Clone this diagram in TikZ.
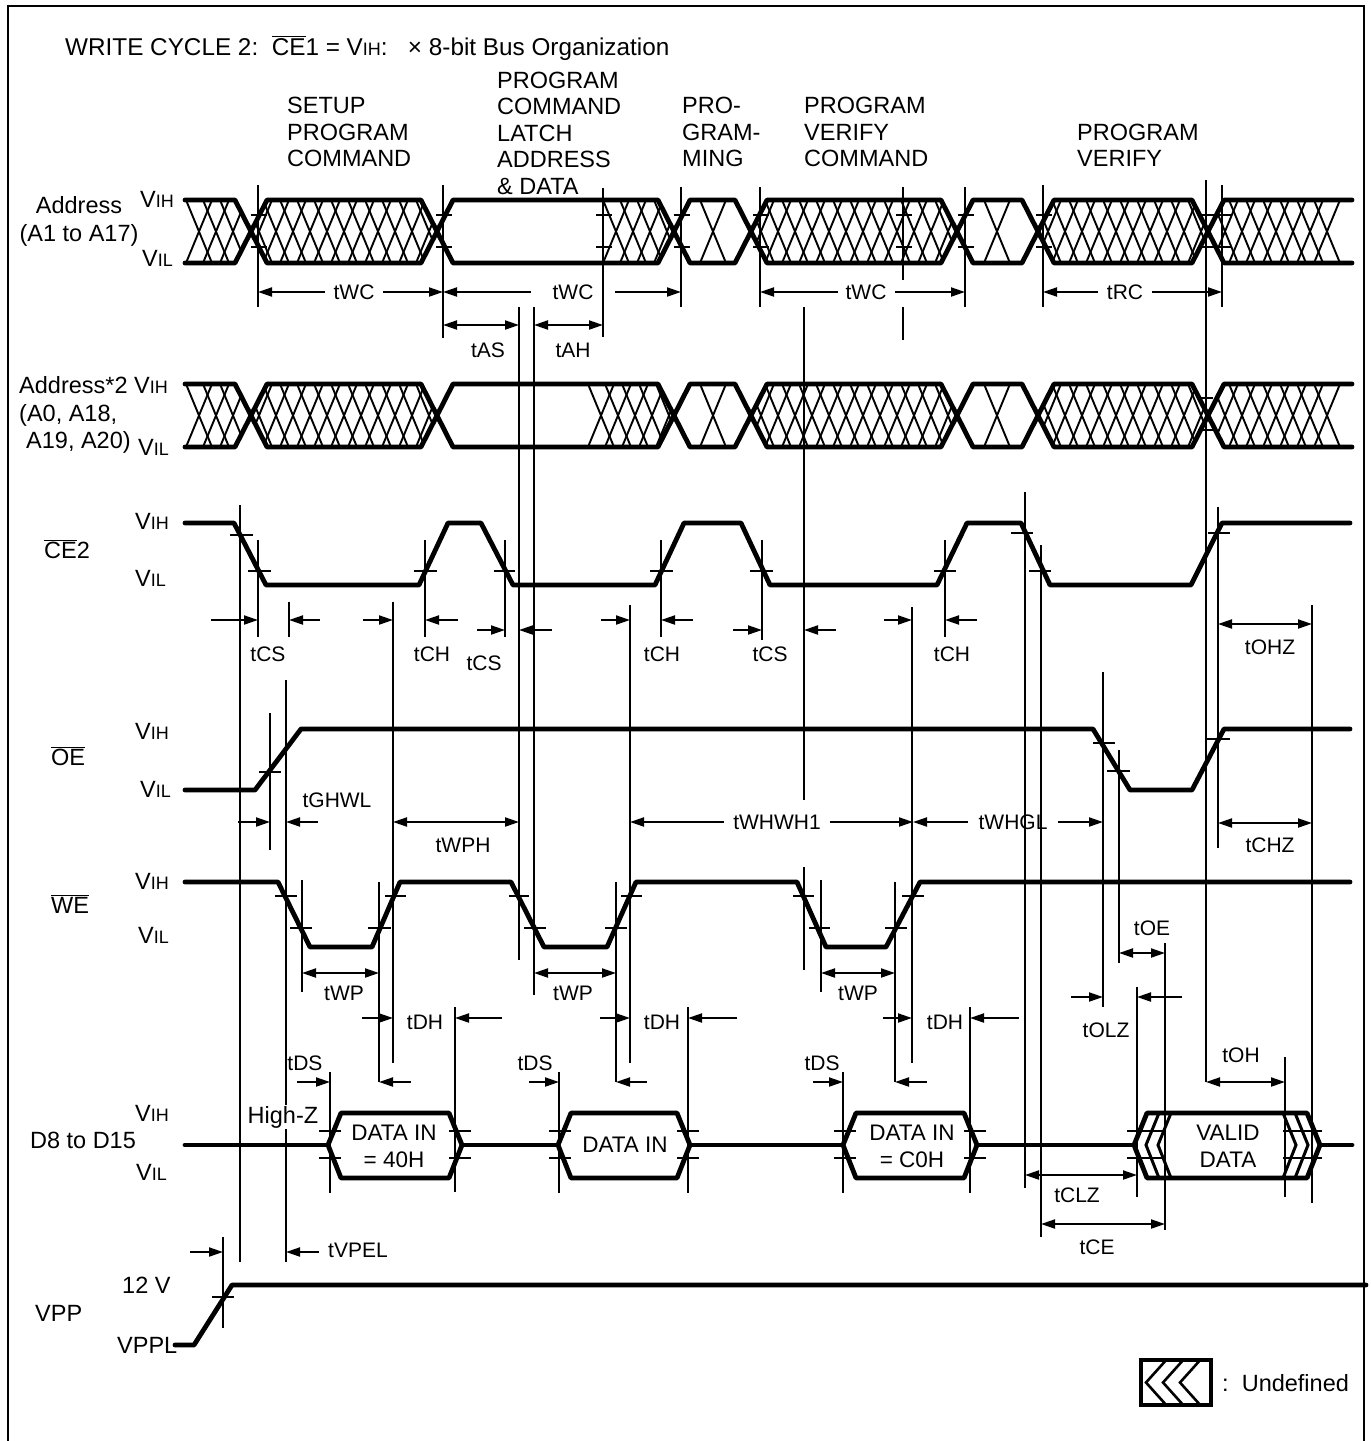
\documentclass[tikz,border=0pt]{standalone}
\usepackage{fontspec}
\setmainfont{Liberation Sans}
\usetikzlibrary{arrows.meta}
\newcommand\vih{V{\fontsize{18}{18}\selectfont IH}}
\newcommand\vil{V{\fontsize{18}{18}\selectfont IL}}
\newcommand\ovl[1]{$\overline{\mbox{#1}}$}
\newcommand\hx[1]{\foreach \a in {#1}{\draw[hatchln] (\a,0)--++(26,63) (\a+26,0)--++(-26,63);}}
\newcommand\busrow[3]{%
\begin{scope}[shift={(0,#1)}]
\begin{scope}\clip (180,0)--(235,0)--(251,31.5)--(235,63)--(180,63)--cycle; \hx{186,203,220,237}\end{scope}
\begin{scope}\clip (251,31.5)--(267,0)--(421,0)--(437,31.5)--(421,63)--(267,63)--cycle; \hx{246,263,...,433}\end{scope}
\begin{scope}\clip (#2,0)--(658,0)--(674,31.5)--(658,63)--(#2,63)--cycle; \hx{#3}\end{scope}
\begin{scope}\clip (674,31.5)--(690,0)--(735,0)--(751,31.5)--(735,63)--(690,63)--cycle; \hx{700}\end{scope}
\begin{scope}\clip (751,31.5)--(767,0)--(941,0)--(957,31.5)--(941,63)--(767,63)--cycle; \hx{748,765,...,952}\end{scope}
\begin{scope}\clip (957,31.5)--(973,0)--(1022,0)--(1038,31.5)--(1022,63)--(973,63)--cycle; \hx{984}\end{scope}
\begin{scope}\clip (1038,31.5)--(1054,0)--(1192,0)--(1208,31.5)--(1192,63)--(1054,63)--cycle; \hx{1035,1052,...,1205}\end{scope}
\begin{scope}\clip (1208,31.5)--(1224,0)--(1341,0)--(1341,63)--(1224,63)--cycle; \hx{1212,1229,...,1314}\end{scope}
\draw[sig] (185,0)--(235,0)--(267,63)--(421,63)--(453,0)--(658,0)--(690,63)--(735,63)--(767,0)--(941,0)--(973,63)--(1022,63)--(1054,0)--(1192,0)--(1224,63)--(1352,63);
\draw[sig] (185,63)--(235,63)--(267,0)--(421,0)--(453,63)--(658,63)--(690,0)--(735,0)--(767,63)--(941,63)--(973,0)--(1022,0)--(1054,63)--(1192,63)--(1224,0)--(1352,0);
\end{scope}}
\begin{document}
\begin{tikzpicture}[x=1pt,y=-1pt,
  sig/.style={line width=4.8pt,line cap=round,line join=round},
  thin/.style={line width=1.9pt},
  hatchln/.style={line width=1.9pt},
  tick/.style={line width=1.9pt},
  dim/.style={line width=2pt,-{Triangle[length=14pt,width=9pt]}},
  ddim/.style={line width=2pt,{Triangle[length=14pt,width=9pt]}-{Triangle[length=14pt,width=9pt]}},
  lbl/.style={font=\fontsize{23.5}{26.5}\selectfont,inner sep=0pt},
  tlbl/.style={font=\fontsize{21}{24}\selectfont,inner sep=0pt},
  dlbl/.style={font=\fontsize{22.5}{26}\selectfont,inner sep=0pt},
]
\useasboundingbox (0,0) rectangle (1371,1441);
\fill[white] (0,0) rectangle (1371,1441);
% frame
\draw[line width=2pt] (8,1450)--(8,6)--(1364,6)--(1364,1450);

% title and phase labels
\node[lbl,font=\fontsize{24.3}{27}\selectfont,anchor=base west] (title) at (65,55) {WRITE CYCLE 2:\ \ \ovl{CE}1 = \vih:\ \ \ ×\ 8-bit Bus Organization};
\foreach \t [count=\i] in {SETUP,PROGRAM,COMMAND} \node[lbl,anchor=base west] (pa\i) at (287,{87+26.5*\i}) {\t};
\foreach \t [count=\i] in {PROGRAM,COMMAND,LATCH,ADDRESS,\& DATA} \node[lbl,anchor=base west] (pb\i) at (497,{61.5+26.5*\i}) {\t};
\foreach \t [count=\i] in {PRO-,GRAM-,MING} \node[lbl,anchor=base west] (pc\i) at (682,{87+26.5*\i}) {\t};
\foreach \t [count=\i] in {PROGRAM,VERIFY,COMMAND} \node[lbl,anchor=base west] (pd\i) at (804,{87+26.5*\i}) {\t};
\foreach \t [count=\i] in {PROGRAM,VERIFY} \node[lbl,anchor=base west] (pe\i) at (1077,{113.5+26.5*\i}) {\t};

% row labels
\node[lbl,anchor=base] (a1) at (79,213) {Address};
\node[lbl,anchor=base] (a2) at (79,241) {(A1 to A17)};
\node[lbl,anchor=base west] (a3) at (140,207) {\vih};
\node[lbl,anchor=base west] (a4) at (142,266) {\vil};
\node[lbl,anchor=base west] (b1) at (19,393) {Address*2 \vih};
\node[lbl,anchor=base west] (b2) at (19,421) {(A0, A18,};
\node[lbl,anchor=base west] (b3) at (26,448) {A19, A20)};
\node[lbl,anchor=base west] (b4) at (138,455) {\vil};
\node[lbl,anchor=base] (c0) at (67,558) {\ovl{CE}2};
\node[lbl,anchor=base west] (c1) at (135,529) {\vih};
\node[lbl,anchor=base west] (c2) at (135,586) {\vil};
\node[lbl,anchor=base] (o0) at (68,765) {\ovl{OE}};
\node[lbl,anchor=base west] (o1) at (135,739) {\vih};
\node[lbl,anchor=base west] (o2) at (140,797) {\vil};
\node[lbl,anchor=base] (w0) at (70,913) {\ovl{WE}};
\node[lbl,anchor=base west] (w1) at (135,889) {\vih};
\node[lbl,anchor=base west] (w2) at (138,943) {\vil};
\node[lbl,anchor=base] (d0) at (83,1148) {D8 to D15};
\node[lbl,anchor=base west] (d1) at (135,1121) {\vih};
\node[lbl,anchor=base west] (d2) at (136,1180) {\vil};
\node[lbl,anchor=base west] (v1) at (122,1293) {12 V};
\node[lbl,anchor=base west] (v2) at (35,1321) {VPP};
\node[lbl,anchor=base west] (v3) at (117,1353) {VPPL};

% bus rows
\busrow{200}{603}{603,620,637,654}
\busrow{384}{588}{588,605,622,639,656}

% vertical reference lines
\foreach \x/\a/\b in {258/185/307, 443/185/338, 603/188/337, 681/187/307, 760/187/307, 903/187/280, 903/307/340,
  965/187/307, 1043/185/307, 1222/185/307, 1206/180/1082,
  240/505/1262, 258/540/637, 289/602/637, 286/680/1262,
  270/713/850, 302/880/992, 379/882/1082, 393/602/1063, 330/1072/1193, 425/540/637, 455/1007/1192,
  505/540/637, 519/307/960, 534/307/995, 559/1072/1193, 616/882/1082, 630/605/1063, 661/540/637,
  688/1007/1193, 762/540/640, 804/307/800, 804/867/970, 821/880/992, 843/1072/1193, 895/882/1082,
  912/607/1063, 945/540/637, 970/1007/1193, 1025/492/1188, 1041/545/1237, 1103/672/1007,
  1119/750/963, 1137/987/1197, 1165/943/1230, 1218/507/848, 1285/1057/1197, 1312/605/1203, 223/1237/1328}
  \draw[thin] (\x,\a)--(\x,\b);

% ticks
\foreach \v in {258,443,603,681,760,903,965,1043,1206,1222}
  \draw[tick] (\v-7,215)--(\v+9,215) (\v-7,247)--(\v+9,247);
\foreach \a/\b/\y in {1198/1213/398, 1198/1213/430,
  230/253/535, 248/271/571, 414/437/571, 494/515/571, 650/673/571, 750/773/571, 934/956/571, 1011/1033/533, 1029/1051/571, 1208/1230/533,
  259/281/772, 1093/1115/743, 1107/1130/771, 1207/1230/739,
  275/297/896, 290/312/928, 368/391/928, 385/406/896, 509/529/896, 524/546/928, 605/627/928, 621/642/896,
  793/814/896, 809/830/928, 885/907/928, 902/924/896,
  1127/1165/1131, 1127/1165/1158, 1283/1322/1131, 1283/1322/1158, 212/234/1297}
  \draw[tick] (\a,\y)--(\b,\y);
\foreach \l/\r in {328/462, 558/690, 843/977}
  \draw[tick] (\l-9,1131)--(\l+13,1131) (\l-9,1158)--(\l+13,1158) (\r-13,1131)--(\r+9,1131) (\r-13,1158)--(\r+9,1158);

% CE2, OE, WE
\draw[sig] (185,523)--(234,523)--(266,585)--(419,585)--(448,523)--(481,523)--(513,585)--(655,585)--(684,523)--(741,523)--(770,585)--(937,585)--(967,523)--(1021,523)--(1050,585)--(1191,585)--(1222,523)--(1350,523);
\draw[sig] (185,790)--(255,790)--(301,729)--(1093,729)--(1130,790)--(1192,790)--(1224,729)--(1350,729);
\draw[sig] (185,882)--(278,882)--(310,947)--(372,947)--(400,882)--(511,882)--(544,947)--(607,947)--(636,882)--(797,882)--(826,947)--(886,947)--(920,882)--(1350,882);

% data bus
\draw[sig] (185,1145)--(328,1145) (462,1145)--(558,1145) (690,1145)--(843,1145) (977,1145)--(1134,1145) (1320,1145)--(1352,1145);
\draw[sig] (328,1145)--(341,1113)--(449,1113)--(462,1145)--(449,1178)--(341,1178)--cycle;
\draw[sig] (558,1145)--(571,1113)--(677,1113)--(690,1145)--(677,1178)--(571,1178)--cycle;
\draw[sig] (843,1145)--(856,1113)--(964,1113)--(977,1145)--(964,1178)--(856,1178)--cycle;
\draw[sig] (1147,1113)--(1134,1145)--(1147,1178)--(1307,1178)--(1320,1145)--(1307,1113)--cycle;
\draw[line width=3pt] (1159,1113)--(1146,1145)--(1159,1178) (1171,1113)--(1158,1145)--(1171,1178)
  (1283,1113)--(1296,1145)--(1283,1178) (1295,1113)--(1308,1145)--(1295,1178);
\node[dlbl] (di1) at (394,1133) {DATA IN};
\node[dlbl] (di1b) at (394,1160) {= 40H};
\node[dlbl] (di2) at (625,1145) {DATA IN};
\node[dlbl] (di3) at (912,1133) {DATA IN};
\node[dlbl] (di3b) at (912,1160) {= C0H};
\node[dlbl] (vd1) at (1228,1133) {VALID};
\node[dlbl] (vd2) at (1228,1160) {DATA};
\node[lbl,fill=white,inner sep=1pt] (hz) at (283,1117) {High-Z};

% VPP
\draw[sig] (175,1345)--(194,1345)--(232,1285)--(1366,1285);

% legend
\begin{scope}
\clip (1141,1360) rectangle (1211,1405);
\draw[line width=2.6pt] (1168,1358)--(1146,1382.5)--(1168,1407) (1185,1358)--(1163,1382.5)--(1185,1407) (1202,1358)--(1180,1382.5)--(1202,1407);
\end{scope}
\draw[line width=4pt] (1141,1360) rectangle (1211,1405);
\node[lbl,anchor=base west] (ud) at (1222,1391) {:\ \ Undefined};

% dimension arrows, row 1
\draw[dim] (325,292)--(258,292); \draw[dim] (383,292)--(443,292);
\draw[dim] (531,292)--(443,292); \draw[dim] (615,292)--(681,292);
\draw[dim] (838,292)--(760,292); \draw[dim] (895,292)--(965,292);
\draw[dim] (1098,292)--(1043,292); \draw[dim] (1152,292)--(1222,292);
\draw[ddim] (443,325)--(519,325); \draw[ddim] (534,325)--(603,325);
\node[tlbl] (twc1) at (354,292) {tWC};
\node[tlbl] (twc2) at (573,292) {tWC};
\node[tlbl] (twc3) at (866,292) {tWC};
\node[tlbl] (trc) at (1125,292) {tRC};
\node[tlbl] (tas) at (488,350) {tAS};
\node[tlbl] (tah) at (573,350) {tAH};

% CE2 arrows
\draw[dim] (211,620)--(258,620); \draw[dim] (320,620)--(289,620);
\draw[dim] (363,620)--(393,620); \draw[dim] (458,620)--(425,620);
\draw[dim] (477,630)--(505,630); \draw[dim] (552,630)--(519,630);
\draw[dim] (601,620)--(630,620); \draw[dim] (693,620)--(661,620);
\draw[dim] (733,630)--(762,630); \draw[dim] (836,630)--(804,630);
\draw[dim] (884,620)--(912,620); \draw[dim] (977,620)--(945,620);
\draw[ddim] (1218,624)--(1312,624);
\node[tlbl] (tcs1) at (268,654) {tCS};
\node[tlbl] (tch1) at (432,654) {tCH};
\node[tlbl] (tcs2) at (484,663) {tCS};
\node[tlbl] (tch2) at (662,654) {tCH};
\node[tlbl] (tcs3) at (770,654) {tCS};
\node[tlbl] (tch3) at (952,654) {tCH};
\node[tlbl] (tohz) at (1270,647) {tOHZ};

% OE arrows
\draw[dim] (238,822)--(270,822); \draw[dim] (318,822)--(286,822);
\draw[ddim] (393,822)--(519,822);
\draw[dim] (724,822)--(630,822); \draw[dim] (830,822)--(913,822);
\draw[dim] (968,822)--(913,822); \draw[dim] (1058,822)--(1103,822);
\draw[ddim] (1218,823)--(1312,823);
\node[tlbl] (tghwl) at (337,800) {tGHWL};
\node[tlbl] (twph) at (463,845) {tWPH};
\node[tlbl] (twhwh) at (777,822) {tWHWH1};
\node[tlbl] (twhgl) at (1013,822) {tWHGL};
\node[tlbl] (tchz) at (1270,845) {tCHZ};

% WE arrows
\draw[ddim] (302,973)--(379,973); \draw[ddim] (534,973)--(616,973); \draw[ddim] (821,973)--(895,973);
\draw[dim] (362,1018)--(393,1018); \draw[dim] (502,1018)--(455,1018);
\draw[dim] (600,1018)--(630,1018); \draw[dim] (737,1018)--(688,1018);
\draw[dim] (883,1018)--(912,1018); \draw[dim] (1019,1018)--(970,1018);
\draw[ddim] (1119,953)--(1165,953);
\draw[dim] (1071,997)--(1103,997); \draw[dim] (1182,997)--(1137,997);
\node[tlbl] (twp1) at (344,993) {tWP};
\node[tlbl] (twp2) at (573,993) {tWP};
\node[tlbl] (twp3) at (858,993) {tWP};
\node[tlbl] (tdh1) at (425,1022) {tDH};
\node[tlbl] (tdh2) at (662,1022) {tDH};
\node[tlbl] (tdh3) at (945,1022) {tDH};
\node[tlbl] (toe) at (1152,928) {tOE};
\node[tlbl] (tolz) at (1106,1030) {tOLZ};

% data / VPP arrows
\draw[dim] (297,1082)--(330,1082); \draw[dim] (411,1082)--(379,1082);
\draw[dim] (529,1082)--(559,1082); \draw[dim] (647,1082)--(616,1082);
\draw[dim] (813,1082)--(843,1082); \draw[dim] (927,1082)--(895,1082);
\draw[ddim] (1206,1082)--(1285,1082);
\draw[ddim] (1025,1175)--(1137,1175);
\draw[ddim] (1041,1224)--(1165,1224);
\draw[dim] (190,1252)--(223,1252); \draw[dim] (319,1252)--(286,1252);
\node[tlbl] (toh) at (1241,1055) {tOH};
\node[tlbl] (tds1) at (305,1063) {tDS};
\node[tlbl] (tds2) at (535,1063) {tDS};
\node[tlbl] (tds3) at (822,1063) {tDS};
\node[tlbl] (tclz) at (1077,1195) {tCLZ};
\node[tlbl] (tce) at (1097,1247) {tCE};
\node[tlbl] (tvpel) at (358,1250) {tVPEL};
\end{tikzpicture}
\end{document}
